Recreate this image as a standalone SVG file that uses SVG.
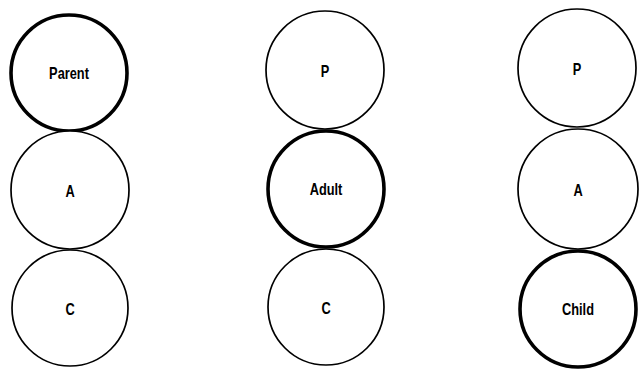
<svg xmlns="http://www.w3.org/2000/svg" width="639" height="371" viewBox="0 0 639 371">
<style>
.c{fill:#fff;stroke:#000;stroke-width:1.7}
.b{fill:#fff;stroke:#000;stroke-width:3.6}
.t{font-family:"Liberation Sans",Arial,sans-serif;font-weight:bold;font-size:16px;text-anchor:middle;dominant-baseline:central;fill:#000}
</style>
<rect width="639" height="371" fill="#fff"/>
<g id="col1">
<g id="parent"><circle class="b" cx="69" cy="73" r="58"/><text class="t" transform="translate(69 73) scale(0.8 1)">Parent</text></g>
<g id="a1"><circle class="c" cx="70" cy="190" r="59"/><text class="t" transform="translate(70 191) scale(0.8 1)">A</text></g>
<g id="c1"><circle class="c" cx="70" cy="308" r="58"/><text class="t" transform="translate(70 309) scale(0.8 1)">C</text></g>
</g>
<g id="col2">
<g id="p2"><circle class="c" cx="325" cy="70" r="59"/><text class="t" transform="translate(325 71) scale(0.8 1)">P</text></g>
<g id="adult"><circle class="b" cx="326" cy="189" r="58"/><text class="t" transform="translate(326 189) scale(0.8 1)">Adult</text></g>
<g id="c2"><circle class="c" cx="326" cy="307" r="58"/><text class="t" transform="translate(326 308) scale(0.8 1)">C</text></g>
</g>
<g id="col3">
<g id="p3"><circle class="c" cx="577" cy="68" r="59"/><text class="t" transform="translate(577 69) scale(0.8 1)">P</text></g>
<g id="a3"><circle class="c" cx="578" cy="189" r="60"/><text class="t" transform="translate(578 190) scale(0.8 1)">A</text></g>
<g id="child"><circle class="b" cx="578" cy="309" r="58"/><text class="t" transform="translate(578 309) scale(0.8 1)">Child</text></g>
</g>
<g id="connectors"></g>
</svg>
